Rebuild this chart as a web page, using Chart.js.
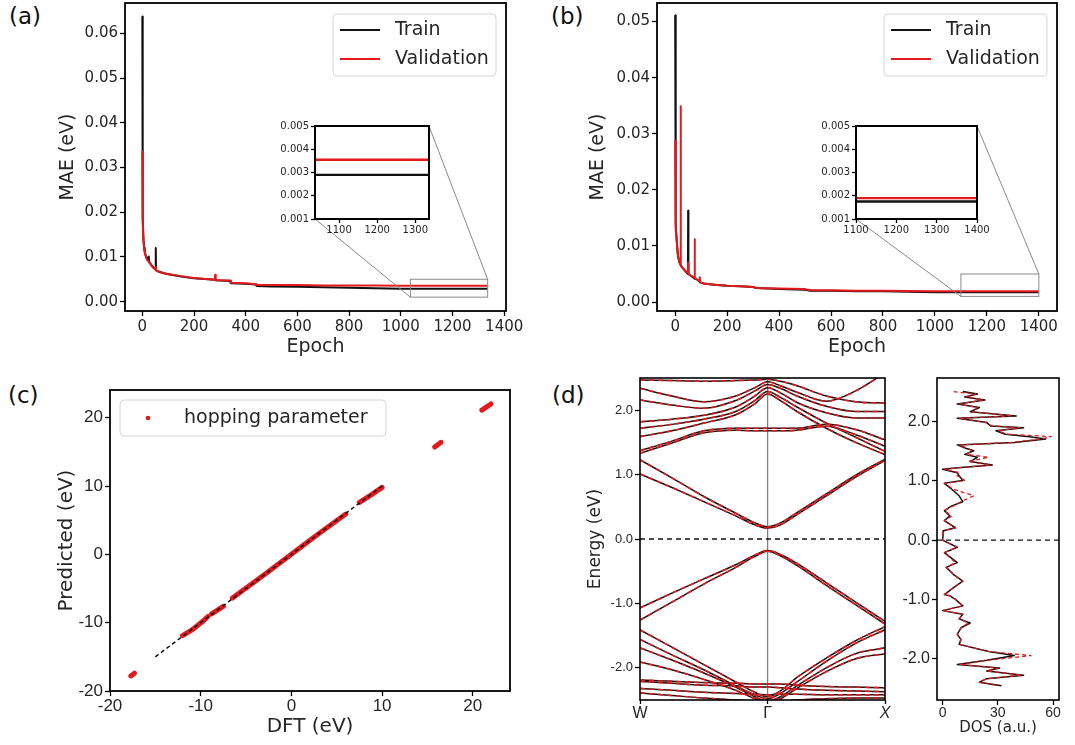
<!DOCTYPE html>
<html>
<head>
<meta charset="utf-8">
<title>Training curves, hopping parameters and bands</title>
<script src="https://cdn.jsdelivr.net/npm/chart.js@4.4.1/dist/chart.umd.min.js"></script>
<style>
  body { margin: 0; width: 1075px; height: 745px; background: #fff; position: relative; overflow: hidden; }
  canvas { position: absolute; }
  .tag { position: absolute; font: 23px "DejaVu Sans", sans-serif; color: #111; line-height: 1; }
</style>
</head>
<body>
<div class="tag" style="left:9px;top:5px">(a)</div>
<div class="tag" style="left:551px;top:5px">(b)</div>
<div class="tag" style="left:8px;top:384px">(c)</div>
<div class="tag" style="left:552px;top:384px">(d)</div>
<canvas id="mainA"></canvas>
<canvas id="mainB"></canvas>
<canvas id="insetA"></canvas>
<canvas id="insetB"></canvas>
<canvas id="hop"></canvas>
<canvas id="bands"></canvas>
<canvas id="dos"></canvas>
<script>
// ---------- data ----------
const epochTicks = [0, 200, 400, 600, 800, 1000, 1200, 1400];
const maeTicksA = [0, 0.01, 0.02, 0.03, 0.04, 0.05, 0.06];
const maeTicksB = [0, 0.01, 0.02, 0.03, 0.04, 0.05];
const insetTicksY = [0.001, 0.002, 0.003, 0.004, 0.005];
const insetTicksXA = [1100, 1200, 1300];
const insetTicksXB = [1100, 1200, 1300, 1400];

// (a)
const epochsA = [0, 1, 2, 4, 7, 10, 15, 20, 25, 26, 30, 40, 50, 52, 53, 60, 80, 100, 150, 200,
  280, 282, 284, 300, 340, 342, 400, 440, 442, 500, 600, 700, 800, 900, 1000, 1100, 1200, 1336];
const trainA = [0.0638, 0.030, 0.019, 0.0145, 0.012, 0.011, 0.0100, 0.0094, 0.0101, 0.0090,
  0.0086, 0.0078, 0.0072, 0.0120, 0.0070, 0.0068, 0.0064, 0.0061, 0.0056, 0.0052,
  0.0049, 0.0049, 0.0048, 0.0047, 0.0046, 0.0041, 0.0040, 0.0038, 0.0035, 0.0034,
  0.0033, 0.0032, 0.0031, 0.0030, 0.0029, 0.0029, 0.0029, 0.0029];
const valA = [0.0335, 0.025, 0.018, 0.014, 0.0118, 0.0108, 0.0098, 0.0092, 0.0090, 0.0088,
  0.0085, 0.0077, 0.0072, 0.0078, 0.0070, 0.0068, 0.0064, 0.0062, 0.0057, 0.0053,
  0.0049, 0.0060, 0.0048, 0.0048, 0.0047, 0.0042, 0.0041, 0.0039, 0.0037, 0.0037,
  0.0037, 0.0036, 0.0036, 0.0036, 0.00355, 0.00355, 0.00355, 0.00355];

// (b)
const epochsB = [0, 1, 3, 6, 10, 15, 20, 21, 22, 30, 45, 49, 50, 51, 60, 74, 75, 76, 85, 94,
  95, 96, 110, 150, 200, 250, 300, 310, 400, 500, 520, 600, 700, 800, 1000, 1200, 1400];
const trainB = [0.0511, 0.020, 0.014, 0.011, 0.0085, 0.0072, 0.0067, 0.0066, 0.0065, 0.006,
  0.0052, 0.0050, 0.01625, 0.0050, 0.0047, 0.0042, 0.0042, 0.0042, 0.0040, 0.0036,
  0.0036, 0.0035, 0.0033, 0.0031, 0.0029, 0.0028, 0.0027, 0.0025, 0.0023, 0.0022,
  0.0020, 0.0020, 0.0019, 0.0019, 0.00176, 0.00175, 0.00175];
const valB = [0.0287, 0.018, 0.013, 0.0108, 0.0085, 0.0073, 0.0068, 0.0349, 0.0066, 0.006,
  0.0053, 0.0052, 0.0070, 0.0050, 0.0047, 0.0044, 0.0112, 0.0043, 0.0040, 0.0037,
  0.0044, 0.0035, 0.0033, 0.0031, 0.0029, 0.0028, 0.0027, 0.0025, 0.0024, 0.0023,
  0.0021, 0.0021, 0.0020, 0.0020, 0.0019, 0.0019, 0.0019];

// (c) clusters of hopping parameters (null = gap between clusters)
const hopTicks = [-20, -10, 0, 10, 20];
const hopDFT  = [-17.7, -17.3, null, -12.0, -11.0, -9.6, -9.2, null, -8.8, -7.5, null,
  -6.5, -3.0, 0, 3.0, 6.0, null, 7.5, 8.8, 10.0, null, 15.8, 16.5, null, 21.0, 22.0];
const hopPred = [-17.8, -17.4, null, -11.9, -11.1, -9.6, -9.1, null, -8.7, -7.6, null,
  -6.4, -3.0, 0, 3.0, 5.9, null, 7.6, 8.7, 9.8, null, 15.7, 16.4, null, 21.1, 22.0];
const idealLine = [-15, 10];

// (d) band structure, sampled along W - Γ - X
const kPath = [0, 0.25, 0.5, 0.75, 0.9, 1.0, 1.1, 1.23, 1.46, 1.69, 1.92];
const kTicks = [0, 1.0, 1.92];
const kLabels = ['W', 'Γ', 'X'];
const energyTicks = [-2, -1, 0, 1, 2];
const bands = [
  [2.47, 2.46, 2.45, 2.46, 2.47, 2.48, 2.45, 2.38, 2.22, 2.13, 2.11],
  [2.34, 2.22, 2.13, 2.22, 2.35, 2.44, 2.38, 2.28, 2.14, 2.30, 2.58],
  [2.16, 2.08, 2.03, 2.15, 2.30, 2.40, 2.34, 2.22, 2.06, 1.98, 1.98],
  [1.82, 1.86, 1.92, 2.05, 2.22, 2.35, 2.27, 2.12, 1.96, 1.88, 1.88],
  [1.72, 1.78, 1.86, 1.98, 2.15, 2.29, 2.20, 2.05, 1.80, 1.58, 1.36],
  [1.59, 1.68, 1.80, 1.93, 2.10, 2.25, 2.15, 1.98, 1.72, 1.50, 1.31],
  [1.37, 1.52, 1.68, 1.72, 1.72, 1.72, 1.72, 1.72, 1.78, 1.70, 1.54],
  [1.33, 1.49, 1.65, 1.69, 1.68, 1.68, 1.68, 1.69, 1.75, 1.62, 1.44],
  [1.23, 0.95, 0.66, 0.40, 0.25, 0.19, 0.25, 0.41, 0.70, 0.99, 1.24],
  [1.01, 0.80, 0.58, 0.36, 0.22, 0.17, 0.22, 0.38, 0.67, 0.96, 1.22],
  [-1.07, -0.84, -0.62, -0.40, -0.25, -0.18, -0.24, -0.38, -0.68, -0.98, -1.28],
  [-1.26, -0.98, -0.70, -0.44, -0.27, -0.19, -0.26, -0.41, -0.72, -1.02, -1.32],
  [-1.41, -1.68, -1.95, -2.22, -2.38, -2.45, -2.36, -2.15, -1.85, -1.58, -1.36],
  [-1.56, -1.80, -2.03, -2.28, -2.42, -2.48, -2.40, -2.22, -1.90, -1.62, -1.41],
  [-1.69, -1.88, -2.08, -2.30, -2.45, -2.52, -2.45, -2.28, -2.00, -1.78, -1.69],
  [-1.91, -2.03, -2.18, -2.35, -2.48, -2.55, -2.48, -2.32, -2.06, -1.86, -1.78],
  [-2.19, -2.21, -2.23, -2.24, -2.25, -2.25, -2.25, -2.27, -2.29, -2.30, -2.31],
  [-2.21, -2.24, -2.27, -2.28, -2.30, -2.30, -2.31, -2.33, -2.35, -2.36, -2.37],
  [-2.32, -2.35, -2.38, -2.40, -2.41, -2.42, -2.41, -2.41, -2.42, -2.42, -2.42],
  [-2.39, -2.43, -2.47, -2.50, -2.52, -2.52, -2.52, -2.50, -2.48, -2.47, -2.47]
];

// (d) density of states
const dosTicks = [0, 30, 60];
const dosE = [2.51, 2.47, 2.42, 2.37, 2.30, 2.24, 2.17, 2.10, 2.06, 1.99,
  1.93, 1.90, 1.85, 1.79, 1.75, 1.71, 1.65, 1.61, 1.55, 1.51,
  1.45, 1.40, 1.33, 1.27, 1.23, 1.20, 1.14, 1.09, 1.01, 0.96,
  0.86, 0.75, 0.65, 0.58, 0.50, 0.41, 0.33, 0.21, 0.16, 0.08,
  0.0, -0.12, -0.21, -0.38, -0.46, -0.58, -0.69, -0.80, -0.92, -0.94,
  -1.00, -1.11, -1.19, -1.25, -1.33, -1.40, -1.48, -1.59, -1.68, -1.76,
  -1.88, -1.95, -2.03, -2.10, -2.16, -2.21, -2.28, -2.34, -2.40, -2.46];
const dosDFT = [11, 19, 12, 23, 8, 20, 15, 40, 8, 24,
  26, 44, 29, 34, 46, 56, 39, 8, 13, 17,
  12, 19, 15, 27, 10, 0, 8, 9, 11, 1,
  5, 9, 11, 5, 1, 4, 1, 7, 0.5, 0.3,
  0, 8, 1, 8, 2, 6, 11, 6, 1, 4,
  7, 11, 0, 11, 9, 15, 10, 8, 10, 9,
  25, 39, 24, 8, 31, 24, 44, 24, 20, 32];
const dosPred = [6, 18, 13, 22, 9, 19, 16, 38, 9, 23,
  27, 42, 30, 35, 59, 54, 37, 9, 14, 16,
  13, 25, 14, 26, 11, 1, 9, 8, 12, 1,
  6, 17, 10, 6, 1, 5, 1, 7, 0.5, 0.3,
  0, 8, 1, 7, 2, 6, 11, 6, 1, 4,
  7, 11, 0, 11, 9, 14, 10, 8, 10, 9,
  25, 48, 24, 9, 30, 24, 43, 24, 20, 31];

// ---------- layout ----------
const RED = '#e3191c', BLACK = '#111111', TXT = '#262626';
const panels = {
  mainA:  { left: 57,  top: 0,   w: 467, h: 358, pad: { top: 3, right: 18 }, yw: 68, xh: 47 },
  mainB:  { left: 587, top: 0,   w: 488, h: 358, pad: { top: 3, right: 18 }, yw: 70, xh: 47 },
  insetA: { left: 276, top: 119, w: 156, h: 120, pad: { top: 7, right: 3 },  yw: 39, xh: 20 },
  insetB: { left: 817, top: 119, w: 174, h: 120, pad: { top: 7, right: 14 }, yw: 39, xh: 20 },
  hop:    { left: 55,  top: 380, w: 460, h: 359, pad: { top: 10, right: 5 }, yw: 55, xh: 48 },
  bands:  { left: 585, top: 375, w: 308, h: 370, pad: { top: 3, right: 8 },  yw: 55, xh: 45 },
  dos:    { left: 895, top: 375, w: 168, h: 362, pad: { top: 3, right: 4 },  yw: 42, xh: 37 }
};

function place(id) {
  const p = panels[id], el = document.getElementById(id);
  el.width = p.w; el.height = p.h;
  el.style.left = p.left + 'px'; el.style.top = p.top + 'px';
  return el;
}

const pts = (xs, ys) => xs.map((x, i) => ({ x: x, y: ys[i] }));

function axis(o) {
  return {
    type: 'linear', min: o.min, max: o.max,
    afterFit: s => {
      if (o.horizontal) s.height = o.fit; else s.width = o.fit;
      // the layout padding already leaves room for the end labels
      s.paddingTop = s.paddingBottom = s.paddingLeft = s.paddingRight = 0;
    },
    afterBuildTicks: s => { s.ticks = o.ticks.map(v => ({ value: v })); },
    grid: { drawOnChartArea: false, drawTicks: true, tickLength: o.tickLength || 5, tickWidth: 1.3, tickColor: '#000' },
    border: { display: false },
    ticks: {
      color: TXT, padding: o.pad === undefined ? 2 : o.pad, autoSkip: false, maxRotation: 0,
      font: o.font || { family: 'DejaVu Sans', size: 15 },
      callback: o.fmt || (v => v.toFixed(o.digits || 0))
    },
    title: o.title
      ? { display: true, text: o.title, color: TXT, padding: 0, font: { family: 'DejaVu Sans', size: o.titleSize } }
      : { display: false }
  };
}

function options(id, scales, extra) {
  return {
    responsive: false, animation: false, devicePixelRatio: 1, events: [],
    layout: { padding: Object.assign({ left: 0, bottom: 0 }, panels[id].pad) },
    elements: { point: { radius: 0, hoverRadius: 0 }, line: { borderJoinStyle: 'round' } },
    plugins: Object.assign({ legend: { display: false }, tooltip: { enabled: false } }, extra || {}),
    scales: scales
  };
}

// ---------- plugins ----------
const frame = {
  id: 'frame',
  beforeDraw(c, a, o) {
    if (!o.fill) return;
    const r = c.chartArea;
    c.ctx.save(); c.ctx.fillStyle = '#fff';
    c.ctx.fillRect(r.left, r.top, r.right - r.left, r.bottom - r.top);
    c.ctx.restore();
  },
  afterDatasetsDraw(c, a, o) {
    const r = c.chartArea, ctx = c.ctx;
    ctx.save(); ctx.strokeStyle = '#000'; ctx.lineWidth = o.width || 1.6;
    ctx.strokeRect(r.left, r.top, r.right - r.left, r.bottom - r.top);
    ctx.restore();
  }
};

const boxLegend = {
  id: 'boxLegend',
  afterDraw(c, a, o) {
    if (!o.w) return;
    const r = c.chartArea, ctx = c.ctx;
    const x0 = o.anchor === 'left' ? r.left + o.dx : r.right - o.dx - o.w;
    const y0 = r.top + o.dy;
    ctx.save();
    ctx.beginPath(); ctx.roundRect(x0, y0, o.w, o.h, 4);
    ctx.fillStyle = 'rgba(255,255,255,0.85)'; ctx.fill();
    ctx.strokeStyle = '#d4d4d4'; ctx.lineWidth = 1; ctx.stroke();
    ctx.font = o.font; ctx.textBaseline = 'middle';
    c.data.datasets.filter(d => d.label).forEach((d, i) => {
      const y = y0 + o.row0 + i * o.rowH;
      ctx.beginPath();
      if (o.marker === 'dot') {
        ctx.arc(x0 + o.mx, y, 2.3, 0, Math.PI * 2); ctx.fillStyle = d.borderColor; ctx.fill();
      } else {
        ctx.moveTo(x0 + o.mx, y); ctx.lineTo(x0 + o.mx + 40, y);
        ctx.strokeStyle = d.borderColor; ctx.lineWidth = 2; ctx.stroke();
      }
      ctx.fillStyle = TXT; ctx.fillText(d.label, x0 + o.tx, y);
    });
    ctx.restore();
  }
};

// zoom rectangle in the main plot and the two connector lines to the inset
const zoomMark = {
  id: 'zoomMark',
  afterDatasetsDraw(c, a, o) {
    if (!o.inset) return;
    const ins = o.inset, ia = ins.chartArea;
    const xs = c.scales.x, ys = c.scales.y;
    const L = xs.getPixelForValue(ins.scales.x.min), R = xs.getPixelForValue(ins.scales.x.max);
    const T = ys.getPixelForValue(ins.scales.y.max), B = ys.getPixelForValue(ins.scales.y.min);
    const dx = ins.canvas.offsetLeft - c.canvas.offsetLeft;
    const dy = ins.canvas.offsetTop - c.canvas.offsetTop;
    const ctx = c.ctx;
    ctx.save(); ctx.strokeStyle = '#8a8a8a'; ctx.lineWidth = 1;
    ctx.strokeRect(L, T, R - L, B - T);
    ctx.beginPath();
    ctx.moveTo(ia.left + dx, ia.bottom + dy); ctx.lineTo(L, B);
    ctx.moveTo(ia.right + dx, ia.top + dy); ctx.lineTo(R, T);
    ctx.stroke(); ctx.restore();
  }
};

// ---------- (a) and (b) ----------
function lossSets(ep, tr, va, w) {
  return [
    { label: 'Train', data: pts(ep, tr), borderColor: BLACK, borderWidth: w, order: 1 },
    { label: 'Validation', data: pts(ep, va), borderColor: RED, borderWidth: w, order: 0 }
  ];
}

function inset(id, ep, tr, va, xmin, xmax, xticks) {
  const p = panels[id];
  const small = { family: 'DejaVu Sans', size: 10 };
  return new Chart(place(id), {
    type: 'line',
    data: { datasets: lossSets(ep, tr, va, 2.4).map(d => Object.assign(d, { label: undefined })) },
    options: options(id, {
      x: axis({ min: xmin, max: xmax, ticks: xticks, horizontal: true, fit: p.xh, font: small, tickLength: 4, pad: 1 }),
      y: axis({ min: 0.001, max: 0.005, ticks: insetTicksY, digits: 3, fit: p.yw, font: small, tickLength: 4, pad: 2 })
    }, { frame: { width: 2, fill: true } }),
    plugins: [frame]
  });
}

function mainLoss(id, ep, tr, va, xmin, xmax, ymin, ymax, yticks, ins) {
  const p = panels[id];
  return new Chart(place(id), {
    type: 'line',
    data: { datasets: lossSets(ep, tr, va, 2) },
    options: options(id, {
      x: axis({ min: xmin, max: xmax, ticks: epochTicks, horizontal: true, fit: p.xh, title: 'Epoch', titleSize: 19 }),
      y: axis({ min: ymin, max: ymax, ticks: yticks, digits: 2, fit: p.yw, title: 'MAE (eV)', titleSize: 19 })
    }, {
      frame: { width: 1.8 },
      zoomMark: { inset: ins },
      boxLegend: { w: 163, h: 62, dx: 10, dy: 11, row0: 16, rowH: 29, mx: 7, tx: 62,
                   font: '19px "DejaVu Sans"' }
    }),
    plugins: [frame, zoomMark, boxLegend]
  });
}

const insA = inset('insetA', epochsA, trainA, valA, 1037, 1336, insetTicksXA);
const insB = inset('insetB', epochsB, trainB, valB, 1100, 1400, insetTicksXB);
mainLoss('mainA', epochsA, trainA, valA, -67, 1407, -0.0021, 0.0668, maeTicksA, insA);
mainLoss('mainB', epochsB, trainB, valB, -70, 1470, -0.0016, 0.0533, maeTicksB, insB);

// ---------- (c) ----------
new Chart(place('hop'), {
  type: 'scatter',
  data: {
    datasets: [
      { data: pts(idealLine, idealLine), showLine: true, borderColor: BLACK, borderWidth: 1.5,
        borderDash: [4, 3], order: 0 },
      { label: 'hopping parameter', data: pts(hopDFT, hopPred), showLine: true, spanGaps: false,
        borderColor: RED, borderWidth: 5, borderCapStyle: 'round', order: 1 }
    ]
  },
  options: options('hop', {
    x: axis({ min: -20, max: 24.1, ticks: hopTicks, horizontal: true, fit: panels.hop.xh, pad: 0,
              font: { family: 'Liberation Sans', size: 17 }, title: 'DFT (eV)', titleSize: 20 }),
    y: axis({ min: -20, max: 24.05, ticks: hopTicks, fit: panels.hop.yw,
              font: { family: 'Liberation Sans', size: 17 }, title: 'Predicted (eV)', titleSize: 20 })
  }, {
    frame: { width: 1.8 },
    boxLegend: { anchor: 'left', w: 266, h: 36, dx: 10, dy: 10, row0: 18, rowH: 0, mx: 28, tx: 64,
                 marker: 'dot', font: '19px "DejaVu Sans"' }
  }),
  plugins: [frame, boxLegend]
});

// ---------- (d) bands ----------
const bandSets = [];
bands.forEach(b => {
  bandSets.push({ data: pts(kPath, b), borderColor: BLACK, borderWidth: 1.5, order: 2,
                  cubicInterpolationMode: 'monotone' });
  bandSets.push({ data: pts(kPath, b), borderColor: RED, borderWidth: 1.6, borderDash: [5, 4], order: 1,
                  cubicInterpolationMode: 'monotone' });
});
bandSets.push({ data: [{ x: kTicks[1], y: -2.5 }, { x: kTicks[1], y: 2.5 }], borderColor: '#808080',
                borderWidth: 1.3, order: 3 });
bandSets.push({ data: [{ x: kTicks[0], y: 0 }, { x: kTicks[2], y: 0 }], borderColor: BLACK,
                borderWidth: 1.3, borderDash: [5, 4], order: 0 });

new Chart(place('bands'), {
  type: 'line',
  data: { datasets: bandSets },
  options: options('bands', {
    x: axis({ min: 0, max: kTicks[2], ticks: kTicks, horizontal: true, fit: panels.bands.xh, tickLength: 4, pad: 0,
              font: ctx => ({ family: 'Liberation Sans', size: 16, style: ctx.index === 2 ? 'italic' : 'normal' }),
              fmt: (v, i) => kLabels[i] }),
    y: axis({ min: -2.5, max: 2.5, ticks: energyTicks, digits: 1, fit: panels.bands.yw,
              font: { family: 'Liberation Sans', size: 13 }, title: 'Energy (eV)', titleSize: 17 })
  }, { frame: { width: 1.6 } }),
  plugins: [frame]
});

// ---------- (d) DOS ----------
new Chart(place('dos'), {
  type: 'scatter',
  data: {
    datasets: [
      { data: pts(dosDFT, dosE), showLine: true, borderColor: BLACK, borderWidth: 1.5, order: 1 },
      { data: pts(dosPred, dosE), showLine: true, borderColor: RED, borderWidth: 1.3, borderDash: [4, 3], order: 0 },
      { data: [{ x: -3, y: 0 }, { x: 63.2, y: 0 }], showLine: true, borderColor: BLACK, borderWidth: 1.3,
        borderDash: [5, 4], order: 0 }
    ]
  },
  options: options('dos', {
    x: axis({ min: -3, max: 63.2, ticks: dosTicks, horizontal: true, fit: panels.dos.xh, pad: 0,
              font: { family: 'Liberation Sans', size: 14 }, title: 'DOS (a.u.)', titleSize: 15 }),
    y: axis({ min: -2.7, max: 2.74, ticks: energyTicks, digits: 1, fit: panels.dos.yw,
              font: { family: 'Liberation Sans', size: 16 } })
  }, { frame: { width: 1.6 } }),
  plugins: [frame]
});
</script>
</body>
</html>
